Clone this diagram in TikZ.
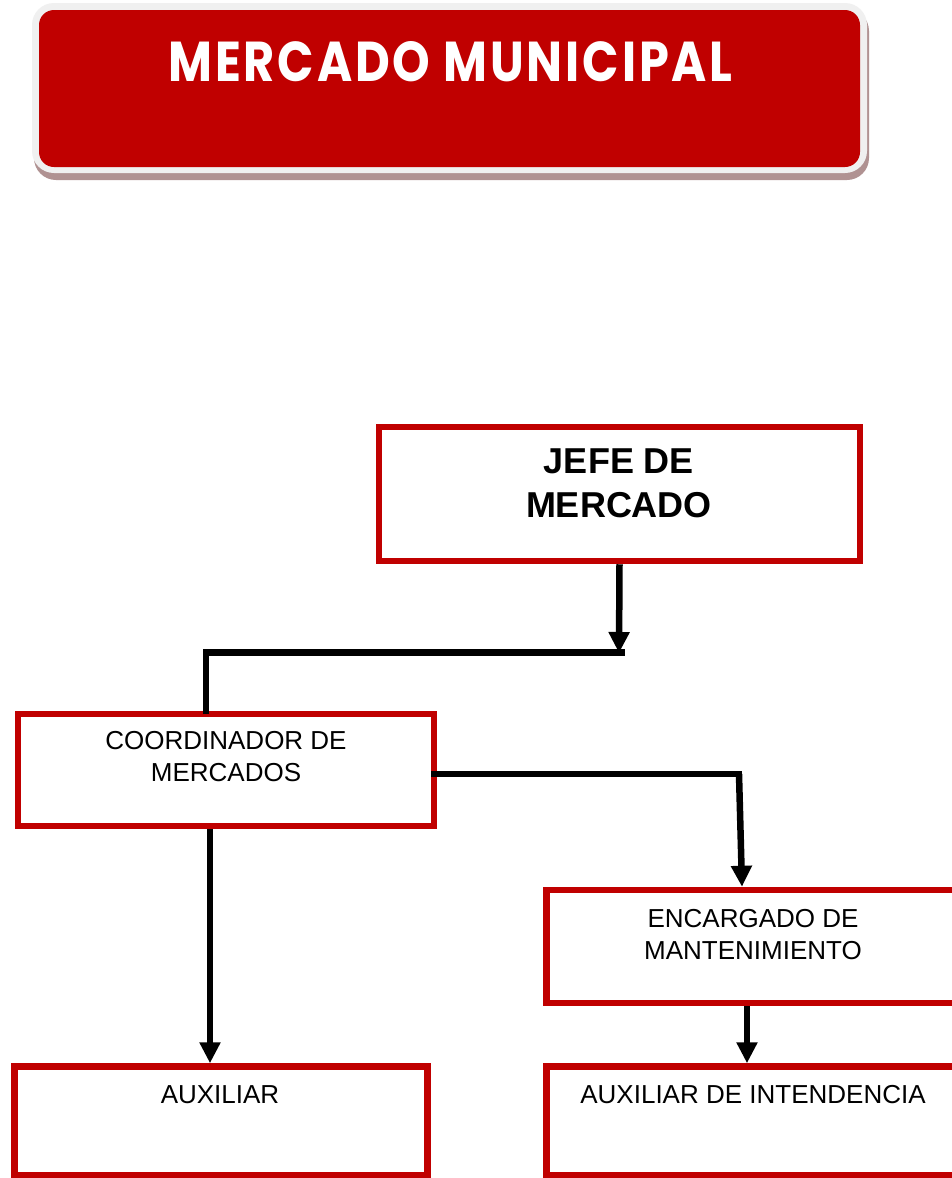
\documentclass[tikz,border=0pt]{standalone}
\usepackage{fontspec}
\setmainfont{Liberation Sans}
\newfontfamily\titlefont{Poppins}[LetterSpace=6]
\usetikzlibrary{arrows.meta,calc}

\definecolor{boxred}{HTML}{C00000}
\definecolor{framegrey}{HTML}{F0F0F0}
\definecolor{shadowbrown}{RGB}{176,146,146}

\tikzset{
  orgbox/.style={draw=boxred, line width=6.5pt, inner sep=0pt, fill=none},
  boxtext/.style={inner sep=0pt, align=center, anchor=north, font=\fontsize{26pt}{32pt}\selectfont},
  bossText/.style={inner sep=0pt, align=center, anchor=north, font=\fontsize{36pt}{44pt}\selectfont\bfseries},
  link/.style={line width=6.5pt, line cap=rect},
  linkarrow/.style={line width=6.5pt, -{Triangle[length=21pt,width=20pt]}},
}

\begin{document}
\begin{tikzpicture}[x=1pt,y=-1pt]
  \clip (0,0) rectangle (952,1178);
  \fill[white] (0,0) rectangle (952,1178);

  % banner: shadow, light frame and red plate
  \fill[shadowbrown, rounded corners=22pt] (34,9) rectangle (869,180);
  \fill[framegrey, rounded corners=22pt] (32,3) rectangle (867,173);
  \node (titlebox) [fill=boxred, rounded corners=15pt, inner sep=0pt,
        minimum width=821pt, minimum height=157pt] at (449.5,88.5) {};
  \node (title) [anchor=base, inner sep=0pt, text=white] at (450.5,81.5)
        {\resizebox{564pt}{40pt}{\titlefont\bfseries MERCADO MUNICIPAL}};

  % boxes
  \node (jefe)  [orgbox, minimum width=481pt, minimum height=134pt] at (619.5,494) {};
  \node (coord) [orgbox, minimum width=416pt, minimum height=112pt] at (226,770) {};
  \node (enc)   [orgbox, minimum width=413pt, minimum height=113pt] at (753,946.5) {};
  \node (aux)   [orgbox, minimum width=413pt, minimum height=109pt] at (221,1121) {};
  \node (intd)  [orgbox, minimum width=413pt, minimum height=109pt] at (753,1121) {};

  % labels
  \node (jefe-t)  [bossText] at (619,449) {JEFE DE\\MERCADO};
  \node (coord-t) [boxtext] at (226,731) {COORDINADOR DE\\MERCADOS};
  \node (enc-t)   [boxtext] at (753,909) {ENCARGADO DE\\MANTENIMIENTO};
  \node (aux-t)   [boxtext] at (220,1085) {AUXILIAR};
  \node (intd-t)  [boxtext] at (753,1085) {AUXILIAR DE INTENDENCIA};

  % connectors
  \coordinate (j1) at (619,653);
  \coordinate (j2) at (206,652.5);
  \coordinate (k2) at (739,774);

  \draw[linkarrow] (jefe.south) -- (j1);
  \draw[link] ($(j1)+(3,-0.5)$) -- (j2) -- (coord.north -| j2);

  \draw[link, line cap=butt] ($(coord.east)+(-6,4)$) -- ($(k2)+(3,0)$);
  \draw[linkarrow] (k2) -- ([xshift=-11pt]enc.north);

  \draw[linkarrow] ([xshift=-16pt]coord.south) -- ([xshift=-11pt]aux.north);
  \draw[linkarrow] ([xshift=-6pt]enc.south) -- ([xshift=-6pt]intd.north);
\end{tikzpicture}
\end{document}
